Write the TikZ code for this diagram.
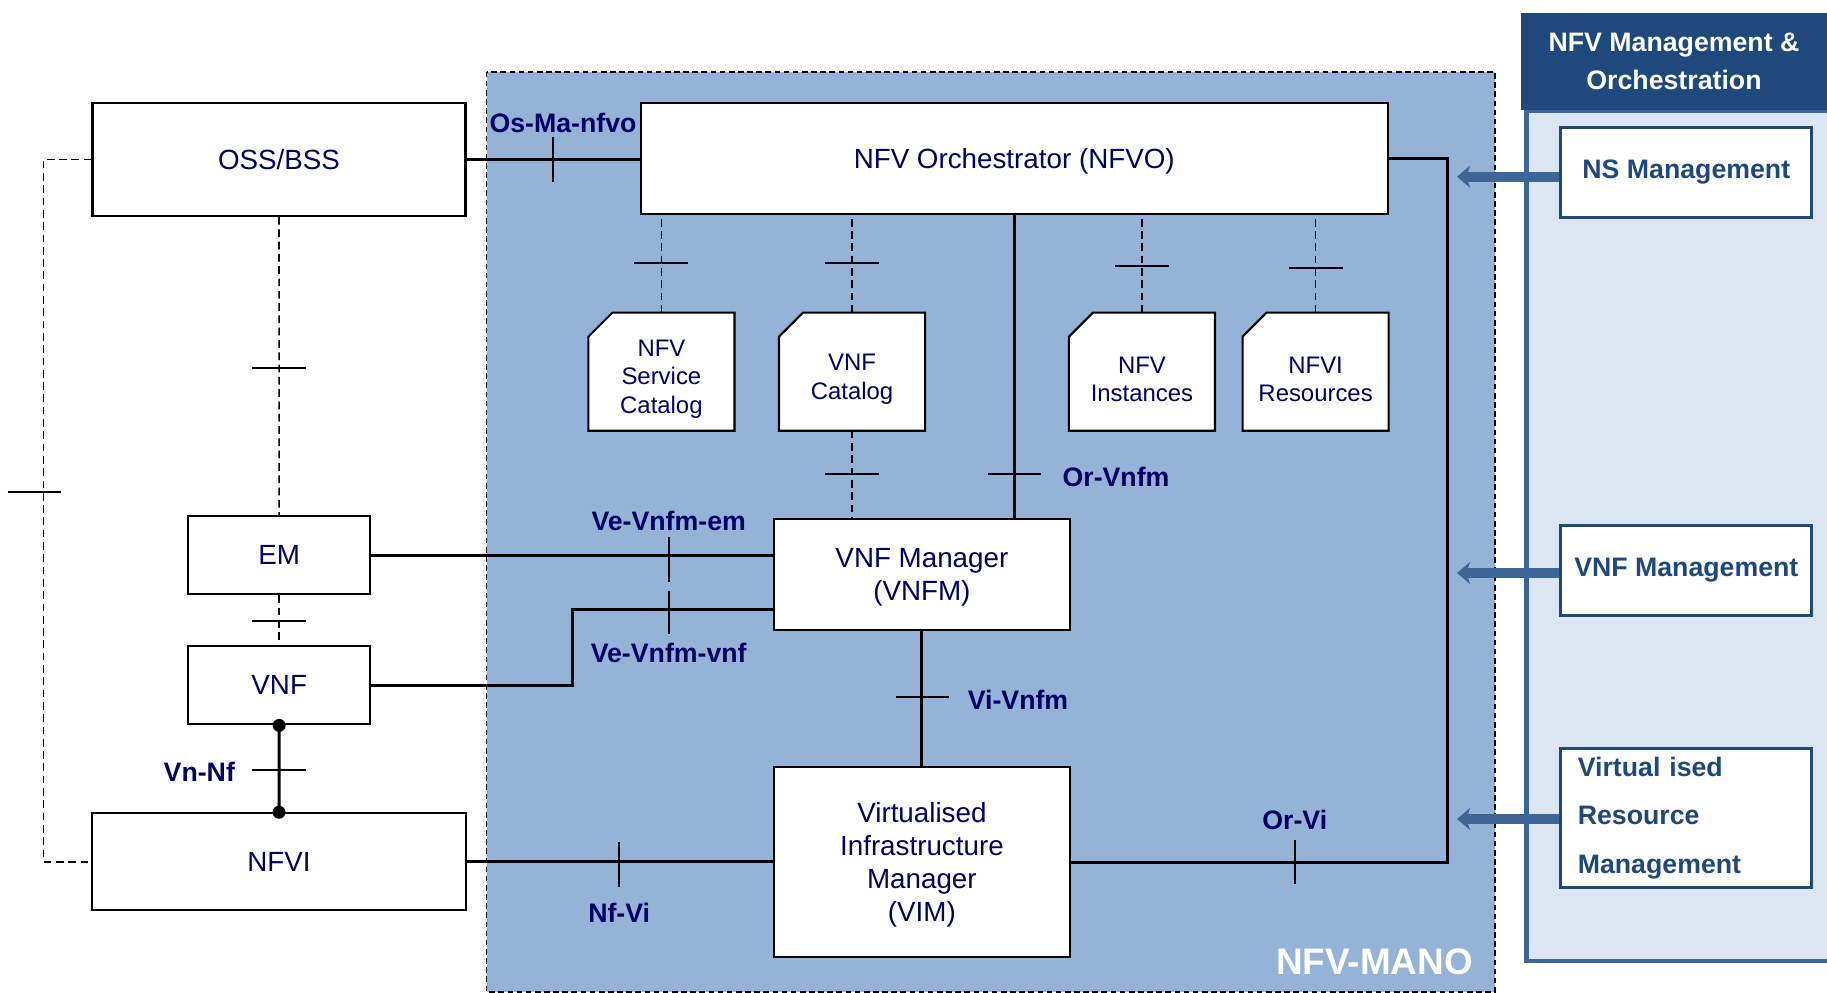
\documentclass[tikz,border=0pt]{standalone}
\usepackage{fontspec}
\setmainfont{Liberation Sans}
\usetikzlibrary{arrows.meta}

\definecolor{navytext}{RGB}{0,0,102}
\definecolor{manoblue}{HTML}{95B3D7}
\definecolor{paneltint}{HTML}{DCE6F2}
\definecolor{headblue}{HTML}{1F497D}
\definecolor{steelblue}{HTML}{3D6596}

\tikzset{
	nfbox/.style={draw, line width=0.6pt, fill=white, text=navytext, align=center,
		inner sep=0pt, font=\fontsize{7.9}{9.4}\selectfont},
	repo/.style={inner sep=0pt, minimum width=1.447cm, minimum height=1.167cm},
	repoline/.style={line width=0.6pt, fill=white},
	repotext/.style={text=navytext, align=center, inner sep=0pt,
		font=\fontsize{6.8}{8.1}\selectfont},
	iface/.style={line width=0.85pt},
	refpt/.style={line width=0.45pt, dash pattern=on 2.2pt off 1.3pt},
	crossmark/.style={line width=0.5pt},
	ilabel/.style={text=navytext, inner sep=0pt, font=\fontsize{7.6}{9}\selectfont\bfseries},
	mgmtbox/.style={draw=headblue, line width=0.85pt, fill=white, text=headblue,
		minimum width=2.513cm, inner sep=0pt, font=\fontsize{7.6}{9}\selectfont\bfseries},
	mgmtarrow/.style={steelblue, line width=2.8pt,
		-{Stealth[length=1.3mm, width=2.2mm, inset=0.35mm]}}
}

\begin{document}
\begin{tikzpicture}

	\useasboundingbox (0,0) rectangle (18.27,-9.93);

	\draw[fill=manoblue, line width=0.5pt, dash pattern=on 1.6pt off 1pt] (4.866,-0.717) rectangle (14.95,-9.92);
	\node[text=white, font=\fontsize{10.5}{12}\selectfont\bfseries] (manolabel) at (13.745,-9.617) {NFV-MANO};

	\draw[steelblue, line width=1.4pt, fill=paneltint] (15.265,-1.11) rectangle (18.6,-9.61);
	\node[fill=headblue, text=white, align=center, minimum width=3.06cm, minimum height=0.968cm,
		font=\fontsize{7.6}{10.8}\selectfont\bfseries] (mgmthead) at (16.74,-0.611) {NFV Management \&\\Orchestration};

	\node[nfbox, minimum width=3.73cm, minimum height=1.133cm] (oss) at (2.79,-1.593) {OSS/BSS};
	\node[nfbox, minimum width=7.47cm, minimum height=1.113cm, text depth=0pt] (nfvo) at (10.142,-1.584) {NFV Orchestrator (NFVO)};
	\foreach \n/\x in {nscat/6.614, vnfcat/8.52, nfvinst/11.419, nfvires/13.156} {
		\node[repo] (\n) at (\x,-3.717) {};
		\draw[repoline] (\n.south west) -- ([yshift=-2.4mm]\n.north west) -- ([xshift=2.4mm]\n.north west)
			-- (\n.north east) -- (\n.south east) -- cycle;
	}
	\node[repotext] (nscattext) at ([yshift=-0.75mm]nscat.center) {NFV\\Service\\Catalog};
	\node[repotext] (vnfcattext) at ([yshift=-0.75mm]vnfcat.center) {VNF\\Catalog};
	\node[repotext] (nfvinsttext) at ([yshift=-0.75mm]nfvinst.center) {NFV\\Instances};
	\node[repotext] (nfvirestext) at ([yshift=-0.75mm]nfvires.center) {NFVI\\Resources};
	\node[nfbox, minimum width=2.963cm, minimum height=1.107cm, text depth=0pt] (vnfm) at (9.219,-5.747) {VNF Manager\\(VNFM)};
	\node[nfbox, minimum width=2.963cm, minimum height=1.894cm, text depth=0pt] (vim) at (9.219,-8.62) {Virtualised\\Infrastructure\\Manager\\(VIM)};
	\node[nfbox, minimum width=1.816cm, minimum height=0.783cm] (em) at (2.792,-5.552) {EM};
	\node[nfbox, minimum width=1.816cm, minimum height=0.783cm] (vnf) at (2.792,-6.852) {VNF};
	\node[nfbox, minimum width=3.732cm, minimum height=0.97cm] (nfvi) at (2.79,-8.618) {NFVI};

	\draw[iface] (oss.east) -- (oss.east -| nfvo.west);
	\draw[crossmark] (5.53,-1.368) -- (5.53,-1.818);
	\foreach \r/\x/\y in {nscat/6.614/-2.633, vnfcat/8.52/-2.633, nfvinst/11.419/-2.66, nfvires/13.156/-2.677} {
		\draw[refpt] (\r.north) -- (\r.north |- nfvo.south);
		\draw[crossmark] (\x-0.27,\y) -- (\x+0.27,\y);
	}
	\draw[refpt] (vnfcat.south) -- (vnfcat.south |- vnfm.north);
	\draw[crossmark] (8.253,-4.743) -- (8.787,-4.743);
	\draw[iface] (nfvo.south) -- (nfvo.south |- vnfm.north);
	\draw[crossmark] (9.875,-4.743) -- (10.409,-4.743);
	\draw[iface] (em.east) -- (em.east -| vnfm.west);
	\draw[crossmark] (6.69,-5.37) -- (6.69,-5.817);
	\draw[iface] (vnf.east) -- ++(2.015,0) |- ([yshift=-3.45mm]vnfm.west);
	\draw[crossmark] (6.69,-5.907) -- (6.69,-6.343);
	\draw[refpt] (oss.south) -- (em.north);
	\draw[crossmark] (2.52,-3.677) -- (3.06,-3.677);
	\draw[refpt] (em.south) -- (vnf.north);
	\draw[crossmark] (2.52,-6.207) -- (3.06,-6.207);
	\draw[iface] (vnf.south) -- (nfvi.north);
	\fill (vnf.south) circle (0.065) (nfvi.north) circle (0.065);
	\draw[crossmark] (2.52,-7.697) -- (3.06,-7.697);
	\draw[refpt] (oss.west) -- ++(-0.478,0) |- (nfvi.west);
	\draw[crossmark] (0.076,-4.923) -- (0.61,-4.923);
	\draw[iface] (nfvi.east) -- (nfvi.east -| vim.west);
	\draw[crossmark] (6.192,-8.417) -- (6.192,-8.867);
	\draw[iface] (vnfm.south) -- (vim.north);
	\draw[crossmark] (8.955,-6.973) -- (9.485,-6.973);
	\draw[iface] (vim.east) -- ++(3.767,0) |- (nfvo.east);
	\draw[crossmark] (12.948,-8.40) -- (12.948,-8.843);

	\node[ilabel] (lbosma) at (5.63,-1.23) {Os-Ma-nfvo};
	\node[ilabel] (lborvnfm) at (11.16,-4.767) {Or-Vnfm};
	\node[ilabel] (lbveem) at (6.687,-5.21) {Ve-Vnfm-em};
	\node[ilabel] (lbvevnf) at (6.687,-6.533) {Ve-Vnfm-vnf};
	\node[ilabel] (lbvnnf) at (1.993,-7.717) {Vn-Nf};
	\node[ilabel] (lbnfvi) at (6.192,-9.127) {Nf-Vi};
	\node[ilabel] (lbvivnfm) at (10.18,-7.0) {Vi-Vnfm};
	\node[ilabel] (lborvi) at (12.948,-8.2) {Or-Vi};

	\node[mgmtbox, minimum height=0.904cm] (nsmgmt) at (16.863,-1.725) {NS Management};
	\node[mgmtbox, minimum height=0.892cm] (vnfmgmt) at (16.863,-5.704) {VNF Management};
	\node[mgmtbox, minimum height=1.387cm, text width=2.17cm, inner xsep=0.17cm, align=left,
		font=\fontsize{7.6}{13.8}\selectfont\bfseries] (vrmgmt) at (16.863,-8.18) {Virtual ised\\Resource\\Management};

	\coordinate (tipline) at (14.57,0);
	\draw[mgmtarrow] ([yshift=-0.42mm]nsmgmt.west) -- ([yshift=-0.42mm]nsmgmt.west -| tipline);
	\draw[mgmtarrow] ([yshift=-0.26mm]vnfmgmt.west) -- ([yshift=-0.26mm]vnfmgmt.west -| tipline);
	\draw[mgmtarrow] ([yshift=-0.1mm]vrmgmt.west) -- ([yshift=-0.1mm]vrmgmt.west -| tipline);

\end{tikzpicture}
\end{document}
